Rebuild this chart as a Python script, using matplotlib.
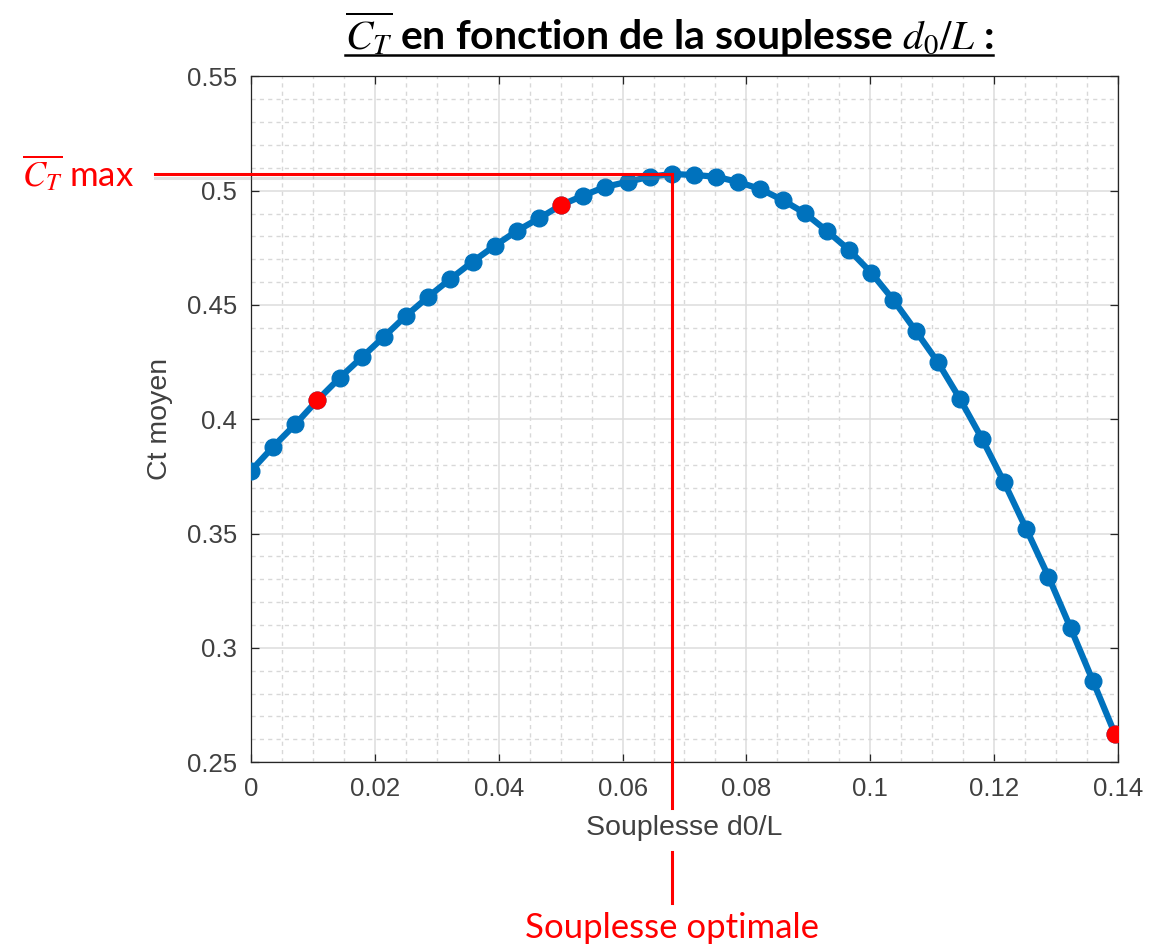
import numpy as np
import matplotlib
matplotlib.use('Agg')
import matplotlib.pyplot as plt
from matplotlib.ticker import MultipleLocator
from matplotlib.lines import Line2D
import matplotlib.patheffects as pe

souplesse = np.linspace(0, 0.1395, 40)
ct_moyen = [0.3775, 0.3880, 0.3978, 0.4084, 0.4181, 0.4271, 0.4361, 0.4453, 0.4536, 0.4614,
            0.4689, 0.4759, 0.4824, 0.4879, 0.4937, 0.4979, 0.5017, 0.5039, 0.5061, 0.5073,
            0.5069, 0.5061, 0.5038, 0.5007, 0.4959, 0.4902, 0.4824, 0.4741, 0.4641, 0.4522,
            0.4388, 0.4251, 0.4090, 0.3915, 0.3724, 0.3520, 0.3312, 0.3087, 0.2857, 0.2624]
points_rouges = [3, 14, 39]
xticks = [0, 0.02, 0.04, 0.06, 0.08, 0.1, 0.12, 0.14]
yticks = [0.25, 0.3, 0.35, 0.4, 0.45, 0.5, 0.55]

plt.rcParams['mathtext.fontset'] = 'stix'
blue = '#0072BD'; axcol = '#262626'; txtcol = '#404040'
ct = np.array(ct_moyen)

fig = plt.figure(figsize=(11.66, 9.52), dpi=100)
ax = fig.add_axes([251/1166, 1-762.2/952, (1118-251)/1166, (762.2-76.4)/952])
ax.plot(souplesse, ct, '-o', color=blue, lw=4.5, ms=12, mec=blue, mfc=blue, zorder=3)
ax.plot(souplesse[points_rouges], ct[points_rouges], 'o', color='red', ms=12, zorder=4)
ax.set_xlim(0, 0.14); ax.set_ylim(0.25, 0.55)
ax.set_xticks(xticks, [f'{t:g}' for t in xticks]); ax.set_yticks(yticks, [f'{t:g}' for t in yticks])
ax.xaxis.set_minor_locator(MultipleLocator(0.005)); ax.yaxis.set_minor_locator(MultipleLocator(0.01))
ax.grid(which='major', color='#dddddd', lw=1.1, ls='-')
ax.grid(which='minor', color='#d8d8d8', lw=1.0, ls=(0, (3, 3)))
ax.set_axisbelow(True)
ax.tick_params(which='major', direction='in', length=6, width=0.9, color=axcol, top=True, right=True,
               labelsize=18.5, labelcolor=txtcol)
ax.tick_params(axis='y', pad=10); ax.tick_params(axis='x', pad=11)
ax.tick_params(which='minor', length=0)
for lab in ax.get_xticklabels() + ax.get_yticklabels():
    lab.set_family('Liberation Sans')
for s in ax.spines.values():
    s.set_color(axcol); s.set_linewidth(0.9)
ax.set_xlabel('Souplesse d0/L', fontsize=20.5, color=txtcol, family='Liberation Sans', labelpad=10)
ax.set_ylabel('Ct moyen', fontsize=20.5, color=txtcol, family='Liberation Sans', labelpad=10)

# annotations rouges (optimum)
i_pk = int(np.argmax(ct)); x_pk = souplesse[i_pk]; y_pk = ct[i_pk]
xf = x_pk / 0.14
red = dict(color='red', lw=2.2, clip_on=False, zorder=5)
ax.add_line(Line2D([-0.111, xf], [y_pk, y_pk], transform=ax.get_yaxis_transform(),
                   path_effects=[pe.SimpleLineShadow(offset=(0, -3), shadow_color='#888888', alpha=0.25), pe.Normal()],
                   **red))
ax.add_line(Line2D([x_pk, x_pk], [y_pk, 0.25], transform=ax.transData, **red))
ax.add_line(Line2D([x_pk, x_pk], [0, -0.067], transform=ax.get_xaxis_transform(), **red))
ax.add_line(Line2D([x_pk, x_pk], [-0.131, -0.206], transform=ax.get_xaxis_transform(), **red))
ax.text(x_pk, -0.257, 'Souplesse optimale', transform=ax.get_xaxis_transform(), ha='center', va='baseline',
        color='red', fontsize=25, family='Lato')
fig.text(22/1166, 1-187/952, r'$\overline{C_T}$ max', ha='left', va='baseline', color='red', fontsize=25, family='Lato')

title = fig.text(669/1166, 1-50/952, r'$\overline{C_T}$ en fonction de la souplesse $d_0/L$ :', ha='center',
                 va='baseline', fontsize=29.5, fontweight='bold', family='Lato', color='black')
fig.canvas.draw()
bb = title.get_window_extent(fig.canvas.get_renderer())
uy = 1 - 55/952
fig.add_artist(Line2D([bb.x0/1166, bb.x1/1166], [uy, uy], transform=fig.transFigure, color='black', lw=1.8))

fig.savefig('out.png', dpi=100)
